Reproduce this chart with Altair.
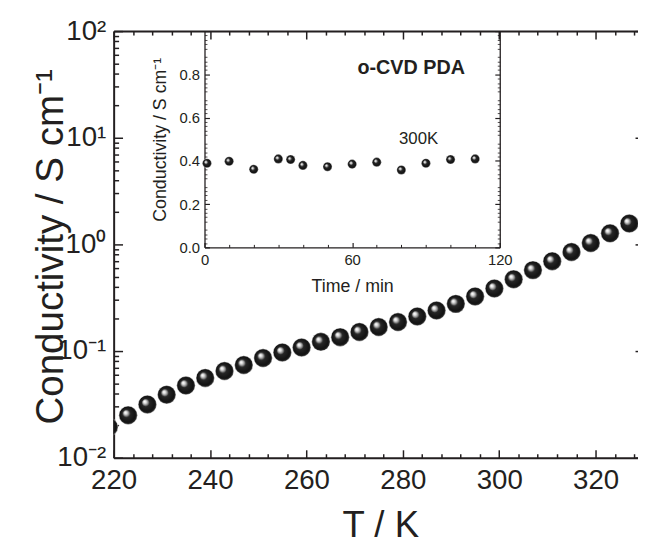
import json
import altair as alt
import pandas as pd

# ---------------- data ----------------
T_K = [219, 223, 227, 231, 235, 239, 243, 247, 251, 255, 259, 263, 267, 271,
       275, 279, 283, 287, 291, 295, 299, 303, 307, 311, 315, 319, 323, 327]
SIGMA = [0.0194, 0.025, 0.0316, 0.039, 0.0475, 0.056, 0.065, 0.074, 0.086, 0.097,
         0.108, 0.122, 0.135, 0.151, 0.168, 0.187, 0.211, 0.240, 0.277, 0.325,
         0.386, 0.471, 0.574, 0.696, 0.849, 1.03, 1.27, 1.57]

TIME_MIN = [1, 10, 20, 30, 35, 40, 50, 60, 70, 80, 90, 100, 110]
SIGMA_300K = [0.389, 0.398, 0.361, 0.409, 0.406, 0.379, 0.373, 0.385, 0.394,
              0.358, 0.389, 0.406, 0.409]

X_MAJOR = [220, 240, 260, 280, 300, 320]
X_MINOR = [224, 228, 232, 236, 244, 248, 252, 256, 264, 268, 272, 276, 284, 288,
           292, 296, 304, 308, 312, 316, 324, 328]
Y_MAJOR = [0.01, 0.1, 1, 10, 100]
Y_MINOR = [0.02, 0.03, 0.04, 0.05, 0.06, 0.07, 0.08, 0.09,
           0.2, 0.3, 0.4, 0.5, 0.6, 0.7, 0.8, 0.9,
           2, 3, 4, 5, 6, 7, 8, 9,
           20, 30, 40, 50, 60, 70, 80, 90]
Y_LABELS = ["10⁻²", "10⁻¹", "10⁰", "10¹", "10²"]

IN_X_MAJOR = [0, 60, 120]
IN_X_MINOR = [10, 20, 30, 40, 50, 70, 80, 90, 100, 110]
IN_Y_LABELED = [0.0, 0.2, 0.4, 0.6, 0.8]
IN_Y_MAJOR = [0.0, 0.2, 0.4, 0.6, 0.8, 1.0]
IN_Y_MINOR = [0.02, 0.04, 0.06, 0.08, 0.12, 0.14, 0.16, 0.18,
              0.22, 0.24, 0.26, 0.28, 0.32, 0.34, 0.36, 0.38,
              0.42, 0.44, 0.46, 0.48, 0.52, 0.54, 0.56, 0.58,
              0.62, 0.64, 0.66, 0.68, 0.72, 0.74, 0.76, 0.78,
              0.82, 0.84, 0.86, 0.88, 0.92, 0.94, 0.96, 0.98]

ANNOT1 = {"text": ["o-CVD PDA"], "t": [84], "s": [0.804]}
ANNOT2 = {"text": ["300K"], "t": [87], "s": [0.479]}

X_TITLE = "T / K"
Y_TITLE = "Conductivity / S cm⁻¹"
IN_X_TITLE = "Time / min"
IN_Y_TITLE = "Conductivity / S cm⁻¹"

# ---------------- style ----------------
F = "Liberation Sans"
C = "#231f20"
W, H = 531, 432
IX0, IX1 = 92, 391
IY0 = 219
RIGHT_EDGE = W + 6   # right frame of the main plot lies just past the picture edge

BALL = alt.RadialGradient(
    gradient="radial",
    stops=[
        alt.GradientStop(offset=0, color="#ffffff"),
        alt.GradientStop(offset=0.14, color="#e6e6e6"),
        alt.GradientStop(offset=0.30, color="#8a8a8a"),
        alt.GradientStop(offset=0.42, color="#262626"),
        alt.GradientStop(offset=0.85, color="#111111"),
        alt.GradientStop(offset=1, color="#3a3a3a"),
    ],
    x1=0.34, y1=0.34, r1=0, x2=0.5, y2=0.5, r2=0.5,
)

main_df = pd.DataFrame({"T": T_K, "sigma": SIGMA})
in_df = pd.DataFrame({"t": TIME_MIN, "s": SIGMA_300K})

x_main = alt.Scale(domain=[220, 328.8], nice=False, zero=False)
y_main = alt.Scale(type="log", domain=[0.01, 100], nice=False)
x_in = alt.Scale(domain=[0, 120], range=[IX0, IX1], nice=False, zero=False)
y_in = alt.Scale(domain=[0, 1], range=[IY0, 0], nice=False, zero=False)

label_expr = json.dumps(Y_LABELS, ensure_ascii=False) + "[round(log(datum.value)/LN10)+2]"


def tick_axis(orient, offset, values, size, domain=False, dw=2.0, tw=1.5):
    return alt.Axis(orient=orient, offset=offset, values=values, labels=False,
                    ticks=True, tickSize=size, tickWidth=tw, tickColor=C,
                    domain=domain, domainColor=C, domainWidth=dw, grid=False,
                    title=None)


def blank(df, xf, yf, xs, ys, xaxis, yaxis):
    return alt.Chart(df).mark_point(opacity=0).encode(
        x=alt.X(xf, type="quantitative", scale=xs, axis=xaxis),
        y=alt.Y(yf, type="quantitative", scale=ys, axis=yaxis),
    )


# ---------------- main plot ----------------
main_x_axis = alt.Axis(
    orient="bottom", values=X_MAJOR, format="d", ticks=False, tickSize=0,
    labelFontSize=28, labelFont=F, labelColor=C, labelPadding=9,
    labelFlush=False, labelOverlap=False, domain=True, domainColor=C,
    domainWidth=2, grid=False, title=X_TITLE, titleFont=F, titleFontSize=37,
    titleFontWeight="normal", titleColor=C, titleX=270, titleY=80,
    titleAlign="center", titleBaseline="alphabetic")
main_y_axis = alt.Axis(
    orient="left", values=Y_MAJOR, labelExpr=label_expr, ticks=False, tickSize=0,
    labelFontSize=28, labelFont=F, labelColor=C, labelPadding=8,
    labelFlush=False, labelOverlap=False, domain=True, domainColor=C,
    domainWidth=2, grid=False, title=Y_TITLE, titleFont=F, titleFontSize=39,
    titleFontWeight="normal", titleColor=C, titleX=-52, titleY=H / 2 + 2,
    titleAngle=270, titleAlign="center", titleBaseline="alphabetic")

main_pts = alt.Chart(main_df).mark_circle(
    size=350, fill=BALL, opacity=1, clip=True, stroke="#ffffff", strokeWidth=0.4
).encode(
    x=alt.X("T:Q", scale=x_main, axis=main_x_axis),
    y=alt.Y("sigma:Q", scale=y_main, axis=main_y_axis),
)

main = alt.layer(
    main_pts,
    blank(main_df, "T", "sigma", x_main, y_main,
          tick_axis("top", -H, X_MAJOR, 8), tick_axis("right", -W, Y_MAJOR, 9)),
    blank(main_df, "T", "sigma", x_main, y_main,
          tick_axis("top", -H, X_MINOR, 4), tick_axis("right", -W, Y_MINOR, 5)),
    blank(main_df, "T", "sigma", x_main, y_main,
          tick_axis("bottom", -H, X_MAJOR, 8, domain=True),
          tick_axis("left", -RIGHT_EDGE, Y_MAJOR, 9, domain=True)),
    blank(main_df, "T", "sigma", x_main, y_main,
          tick_axis("bottom", -H, X_MINOR, 4),
          tick_axis("left", -RIGHT_EDGE, Y_MINOR, 5)),
).resolve_axis(x="independent", y="independent")

# ---------------- inset ----------------
in_x_axis = alt.Axis(
    orient="bottom", offset=-(H - IY0), values=IN_X_MAJOR, format="d",
    ticks=False, tickSize=0, labelFontSize=15, labelFont=F, labelColor=C,
    labelPadding=5, labelFlush=False, labelOverlap=False, domain=True,
    domainColor=C, domainWidth=1.3, grid=False, title=IN_X_TITLE, titleFont=F,
    titleFontSize=18, titleFontWeight="normal", titleColor=C,
    titleX=(IX0 + IX1) / 2, titleY=45, titleAlign="center",
    titleBaseline="alphabetic")
in_y_axis = alt.Axis(
    orient="left", offset=-IX0, values=IN_Y_LABELED, format=".1f",
    ticks=False, tickSize=0, labelFontSize=15, labelFont=F, labelColor=C,
    labelPadding=5, labelFlush=False, labelOverlap=False, domain=True,
    domainColor=C, domainWidth=1.3, grid=False, title=IN_Y_TITLE, titleFont=F,
    titleFontSize=18, titleFontWeight="normal", titleColor=C, titleX=-40,
    titleY=IY0 / 2, titleAngle=270, titleAlign="center",
    titleBaseline="alphabetic")

in_pts = alt.Chart(in_df).mark_circle(
    size=85, fill=BALL, opacity=1, stroke="#ffffff", strokeWidth=0.3
).encode(
    x=alt.X("t:Q", scale=x_in, axis=in_x_axis),
    y=alt.Y("s:Q", scale=y_in, axis=in_y_axis),
)

annot1 = alt.Chart(pd.DataFrame(ANNOT1)).mark_text(
    font=F, fontSize=20, fontWeight="bold", color=C, align="center",
    baseline="alphabetic"
).encode(
    x=alt.X("t:Q", scale=x_in, axis=None),
    y=alt.Y("s:Q", scale=y_in, axis=None),
    text="text:N",
)
annot2 = alt.Chart(pd.DataFrame(ANNOT2)).mark_text(
    font=F, fontSize=17, color=C, align="center", baseline="alphabetic"
).encode(
    x=alt.X("t:Q", scale=x_in, axis=None),
    y=alt.Y("s:Q", scale=y_in, axis=None),
    text="text:N",
)

inset = alt.layer(
    in_pts,
    blank(in_df, "t", "s", x_in, y_in,
          tick_axis("top", -IY0, IN_X_MAJOR, 5, tw=1.2),
          tick_axis("right", -(W - IX0), IN_Y_MAJOR, 5, tw=1.2)),
    blank(in_df, "t", "s", x_in, y_in,
          tick_axis("top", -IY0, IN_X_MINOR, 3, tw=1.0),
          tick_axis("right", -(W - IX0), IN_Y_MINOR, 2.5, tw=0.8)),
    blank(in_df, "t", "s", x_in, y_in, None,
          tick_axis("left", -IX1, IN_Y_MAJOR, 5, domain=True, dw=1.3, tw=1.2)),
    blank(in_df, "t", "s", x_in, y_in, None,
          tick_axis("left", -IX1, IN_Y_MINOR, 2.5, tw=0.8)),
    annot1,
    annot2,
).resolve_axis(x="independent", y="independent")

chart = alt.layer(main, inset).resolve_scale(
    x="independent", y="independent"
).properties(
    width=W, height=H,
    autosize=alt.AutoSizeParams(type="none"),
    padding={"left": 107, "top": 20, "right": 0, "bottom": 85},
).configure_view(stroke=None).configure(background="white")

chart.save("out.html", embed_options={"renderer": "svg", "actions": False})
